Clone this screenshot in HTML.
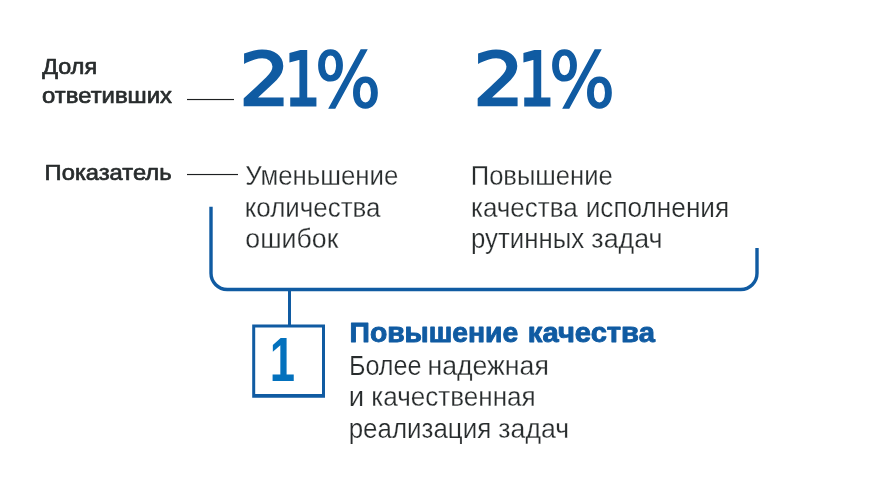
<!DOCTYPE html>
<html lang="ru"><head><meta charset="utf-8"><title>Повышение качества</title>
<style>html,body{margin:0;padding:0;background:#fff}body{width:870px;height:500px;overflow:hidden}svg{display:block}text{font-family:"Liberation Sans",sans-serif;white-space:pre}</style>
</head><body>
<svg width="870" height="500" viewBox="0 0 870 500">
<rect width="870" height="500" fill="#fff"/>
<!-- leader lines -->
<rect x="187" y="98.95" width="47" height="1.15" fill="#1e2021"/>
<rect x="187" y="173.95" width="51" height="1.15" fill="#1e2021"/>
<!-- bracket -->
<path d="M211 206.8V273.3A16.2 16.2 0 0 0 227.2 289.5H740.8A16.2 16.2 0 0 0 757 273.3V248" fill="none" stroke="#105ba2" stroke-width="3.4"/>
<rect x="288" y="290" width="3" height="36" fill="#105ba2"/>
<path fill-rule="evenodd" d="M252.2 324.6H325V397.8H252.2ZM255.2 327.6V394.1H322V327.6Z" fill="#105ba2"/>
<!-- labels -->
<g>
<text transform="matrix(1.0377 0 0 1.0 42.26 74.25)" font-size="22.5" fill="#282c2d" stroke="#282c2d" stroke-width="0.7" stroke-linejoin="round">Доля</text>
<text transform="matrix(1.0607 0 0 1.0 42.07 102.65)" font-size="22.5" fill="#282c2d" stroke="#282c2d" stroke-width="0.7" stroke-linejoin="round">ответивших</text>
</g>
<g><text transform="matrix(1.0554 0 0 1.0 44.62 180.35)" font-size="22.5" fill="#282c2d" stroke="#282c2d" stroke-width="0.7" stroke-linejoin="round">Показатель</text></g>
<!-- big numbers -->
<g aria-label="21%"><title>21%</title><text transform="matrix(1.0256 0 0 0.93 239.24 105.4)" font-size="78" style="font-family:'DejaVu Sans','Liberation Sans',sans-serif" fill="#105ba2" stroke="#105ba2" stroke-width="2.8" stroke-linejoin="miter">2</text><text transform="matrix(0.7324 0 0 0.9467 284.17 105.38)" font-size="78" style="font-family:'DejaVu Sans','Liberation Sans',sans-serif" fill="#105ba2" stroke="#105ba2" stroke-width="3.0" stroke-linejoin="miter">1</text><text transform="matrix(0.8896 0 0 0.9811 315.09 106.64)" font-size="78" style="font-family:'DejaVu Sans','Liberation Sans',sans-serif" fill="#105ba2" stroke="#105ba2" stroke-width="1.6" stroke-linejoin="miter">%</text></g>
<g aria-label="21%"><title>21%</title><text transform="matrix(1.0256 0 0 0.93 473.24 105.4)" font-size="78" style="font-family:'DejaVu Sans','Liberation Sans',sans-serif" fill="#105ba2" stroke="#105ba2" stroke-width="2.8" stroke-linejoin="miter">2</text><text transform="matrix(0.7324 0 0 0.9467 518.17 105.38)" font-size="78" style="font-family:'DejaVu Sans','Liberation Sans',sans-serif" fill="#105ba2" stroke="#105ba2" stroke-width="3.0" stroke-linejoin="miter">1</text><text transform="matrix(0.8896 0 0 0.9811 549.09 106.64)" font-size="78" style="font-family:'DejaVu Sans','Liberation Sans',sans-serif" fill="#105ba2" stroke="#105ba2" stroke-width="1.6" stroke-linejoin="miter">%</text></g>
<!-- column 1 -->
<g>
<text transform="matrix(0.9633 0 0 1.0 245.24 185.03)" font-size="26.8" fill="#282c2d" stroke="#fff" stroke-width="0.25" stroke-linejoin="round">Уменьшение</text>
<text transform="matrix(0.9678 0 0 1.0 244.66 216.53)" font-size="26.8" fill="#282c2d" stroke="#fff" stroke-width="0.25" stroke-linejoin="round">количества</text>
<text transform="matrix(0.9962 0 0 1.0 245.35 248.03)" font-size="26.8" fill="#282c2d" stroke="#fff" stroke-width="0.25" stroke-linejoin="round">ошибок</text>
</g>
<!-- column 2 -->
<g>
<text transform="matrix(0.9542 0 0 1.0 470.75 185.03)" font-size="26.8" fill="#282c2d" stroke="#fff" stroke-width="0.25" stroke-linejoin="round">Повышение</text>
<text transform="matrix(0.9713 0 0 1.0 470.96 216.53)" font-size="26.8" fill="#282c2d" stroke="#fff" stroke-width="0.25" stroke-linejoin="round">качества</text>
<text transform="matrix(0.9779 0 0 1.0 585.64 216.53)" font-size="26.8" fill="#282c2d" stroke="#fff" stroke-width="0.25" stroke-linejoin="round">исполнения</text>
<text transform="matrix(0.963 0 0 1.0 470.97 248.03)" font-size="26.8" fill="#282c2d" stroke="#fff" stroke-width="0.25" stroke-linejoin="round">рутинных</text>
<text transform="matrix(1.0007 0 0 1.0 591.35 248.03)" font-size="26.8" fill="#282c2d" stroke="#fff" stroke-width="0.25" stroke-linejoin="round">задач</text>
</g>
<!-- summary -->
<text transform="matrix(0.7571 0 0 1.0473 269.66 381.0)" font-size="60" font-weight="700" fill="#0371bd">1</text>
<g>
<text transform="matrix(1.029 0 0 1.0 349.56 342.3)" font-size="27.5" font-weight="700" fill="#105ba2" stroke="#105ba2" stroke-width="0.9" stroke-linejoin="round">Повышение</text>
<text transform="matrix(1.0605 0 0 1.0 527.81 342.3)" font-size="27.5" font-weight="700" fill="#105ba2" stroke="#105ba2" stroke-width="0.9" stroke-linejoin="round">качества</text>
</g>
<g>
<text transform="matrix(0.9397 0 0 1.0 348.89 374.93)" font-size="26.8" fill="#282c2d" stroke="#fff" stroke-width="0.25" stroke-linejoin="round">Более</text>
<text transform="matrix(0.9949 0 0 1.0 427.41 374.93)" font-size="26.8" fill="#282c2d" stroke="#fff" stroke-width="0.25" stroke-linejoin="round">надежная</text>
<text transform="matrix(1.0273 0 0 1.0 348.65 406.43)" font-size="26.8" fill="#282c2d" stroke="#fff" stroke-width="0.25" stroke-linejoin="round">и</text>
<text transform="matrix(0.9733 0 0 1.0 371.25 406.43)" font-size="26.8" fill="#282c2d" stroke="#fff" stroke-width="0.25" stroke-linejoin="round">качественная</text>
<text transform="matrix(0.9682 0 0 1.0 348.66 437.93)" font-size="26.8" fill="#282c2d" stroke="#fff" stroke-width="0.25" stroke-linejoin="round">реализация</text>
<text transform="matrix(0.9949 0 0 1.0 498.35 437.93)" font-size="26.8" fill="#282c2d" stroke="#fff" stroke-width="0.25" stroke-linejoin="round">задач</text>
</g>
</svg>
</body></html>
